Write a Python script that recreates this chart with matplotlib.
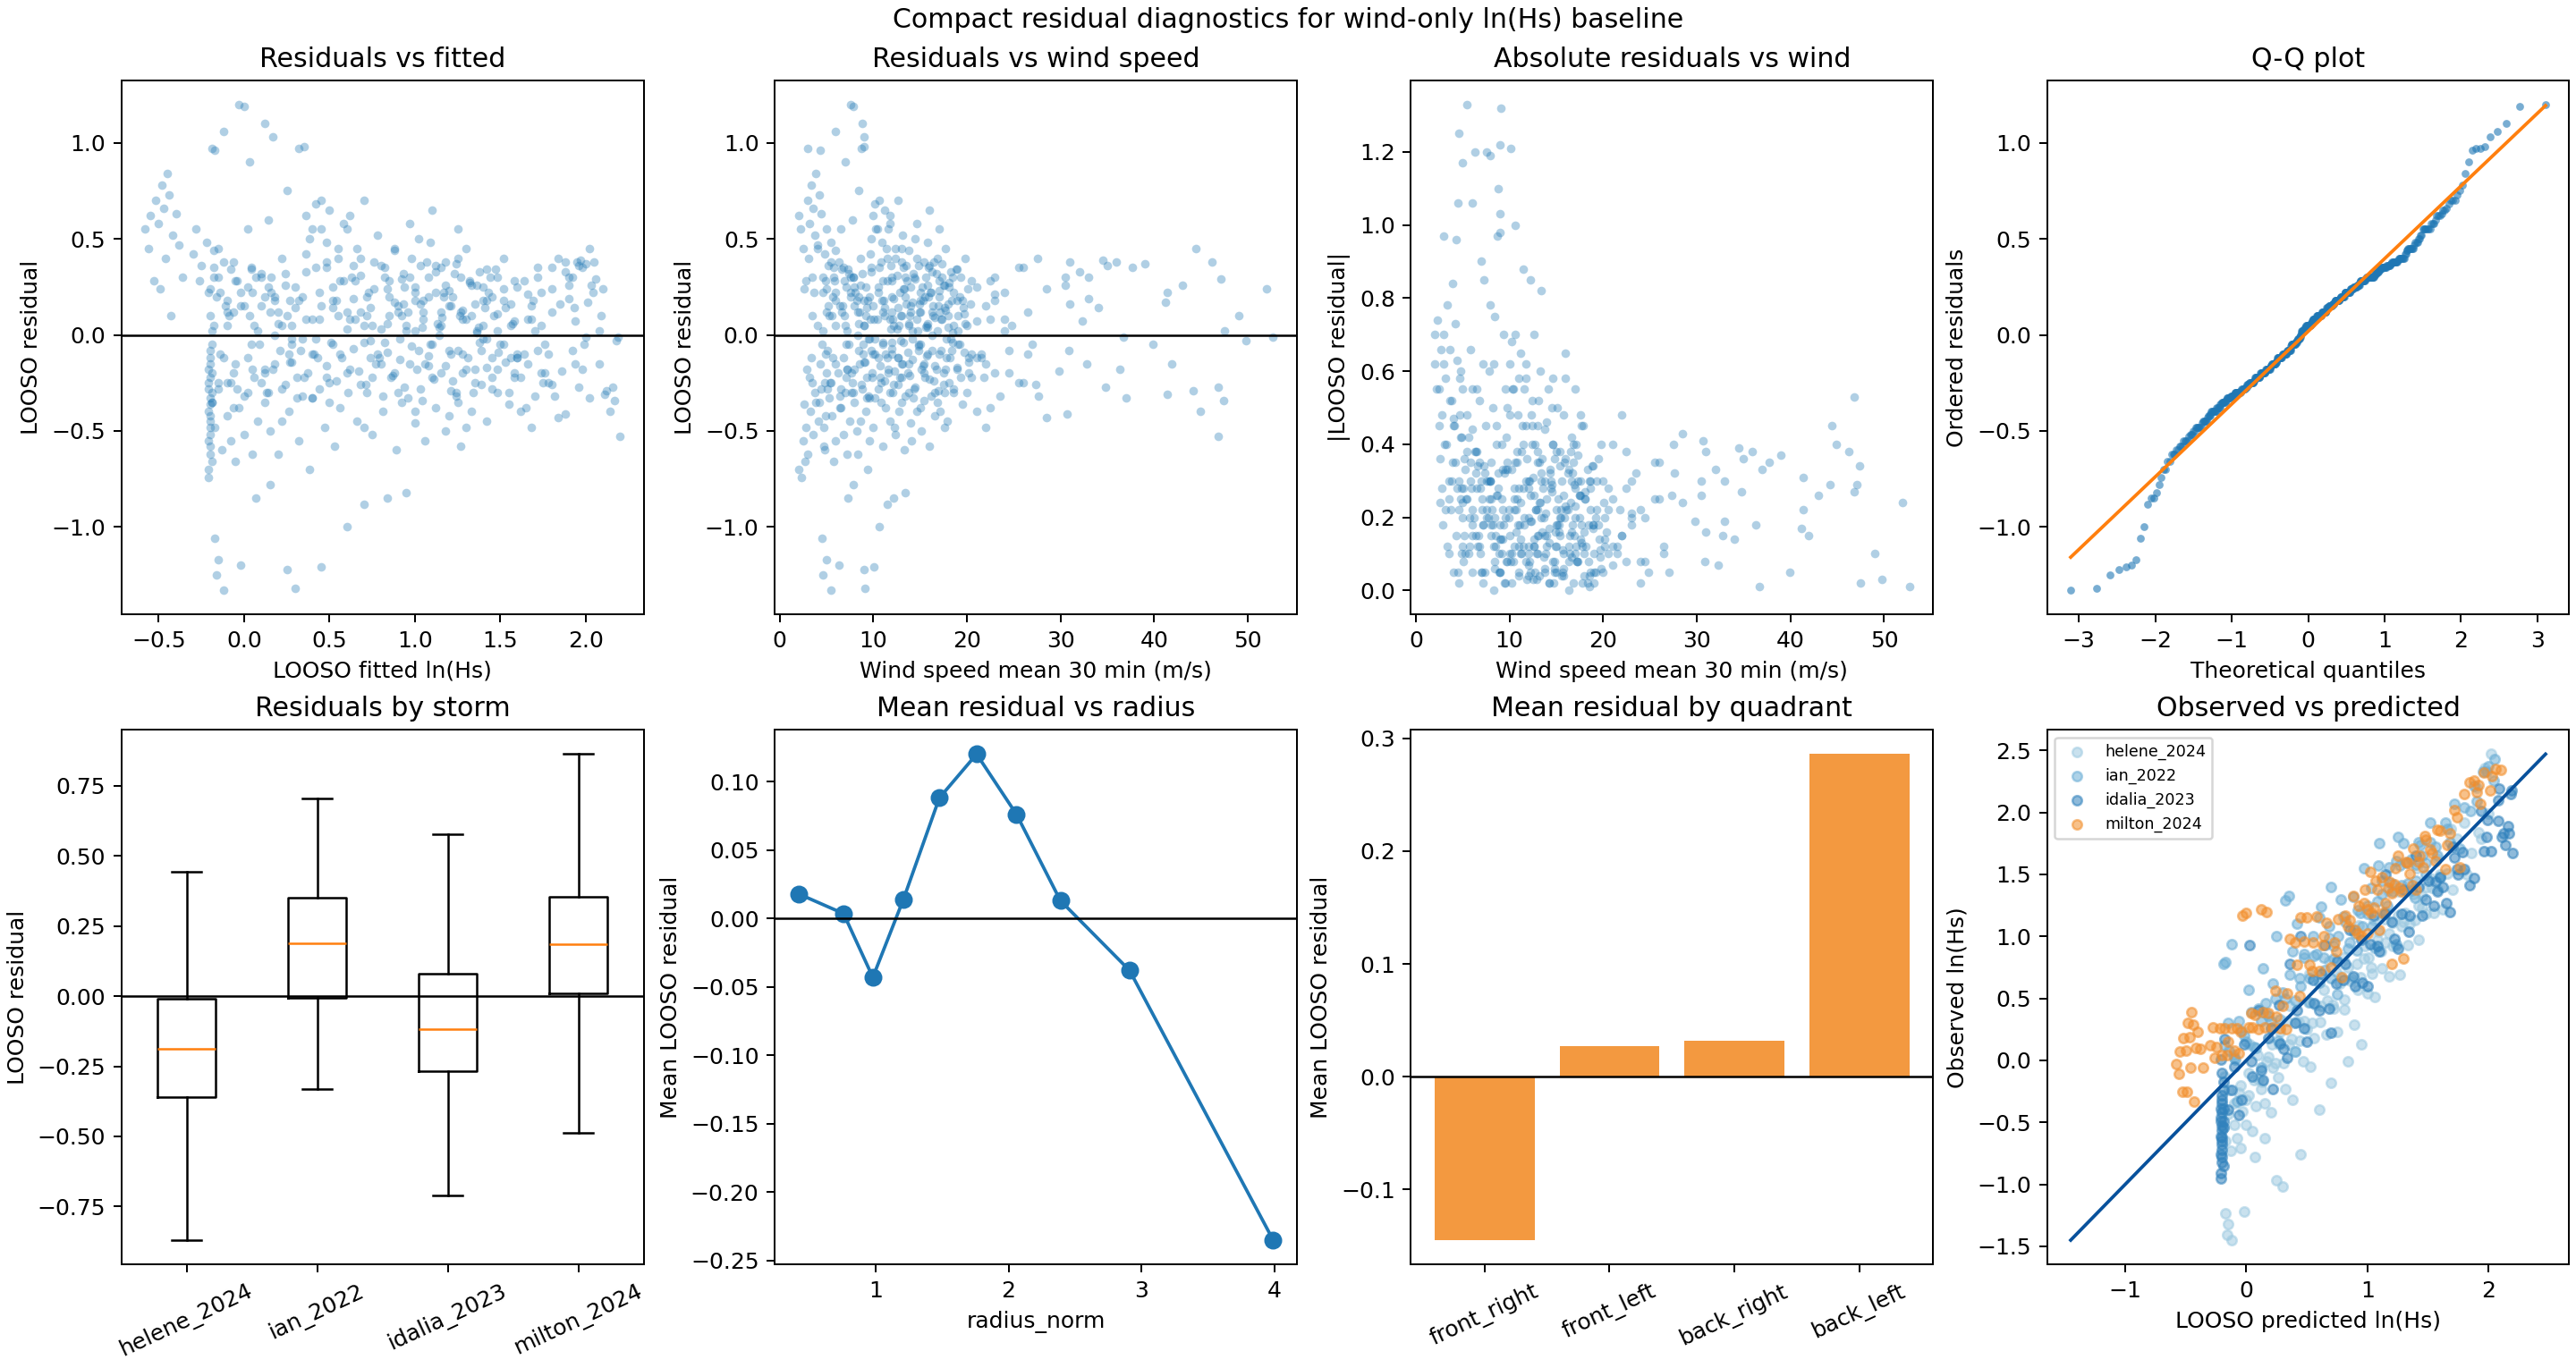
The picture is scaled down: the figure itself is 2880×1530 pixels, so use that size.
import statistics
import numpy as np
import matplotlib
matplotlib.use("Agg")
import matplotlib.pyplot as plt

storms = ["helene_2024", "ian_2022", "idalia_2023", "milton_2024"]
storm_colors = ["#9ecae1", "#6baed6", "#3182bd", "#f28e2b"]

# (LOOSO fitted ln(Hs), wind speed mean 30 min, LOOSO residual)
helene_pts = [
    (-0.19, 4.2, -0.35), (-0.18, 4.0, 0.05), (-0.17, 4.5, -1.06), (-0.17, 4.7, -0.48), (-0.16, 4.6, -1.25),
    (-0.15, 5.0, -1.17), (-0.15, 5.1, -0.28), (-0.13, 4.8, -0.60), (-0.12, 5.5, -1.33), (-0.11, 5.2, 0.15),
    (-0.10, 5.6, -0.42), (-0.08, 6.0, -0.55), (-0.06, 6.2, -0.20), (-0.05, 5.8, -0.66), (-0.03, 6.5, -0.38),
    (-0.02, 6.3, -1.20), (0.00, 6.8, -0.52), (0.02, 7.0, -0.30), (0.03, 6.9, 0.10), (0.05, 7.2, -0.62),
    (0.08, 7.5, -0.45), (0.10, 7.8, -0.25), (0.07, 7.3, -0.85), (0.15, 7.9, -0.78),
    (0.12, 8.0, -0.35), (0.15, 8.2, -0.50), (0.16, 8.1, 0.22), (0.18, 8.5, -0.15), (0.20, 8.3, -0.62),
    (0.22, 8.8, -0.28), (0.25, 9.0, -1.22), (0.26, 9.2, -0.40), (0.28, 8.9, -0.05), (0.30, 9.1, -1.32),
    (0.32, 9.6, -0.55), (0.35, 9.9, -0.22), (0.36, 9.7, 0.08), (0.38, 9.4, -0.70), (0.40, 10.2, -0.33),
    (0.43, 10.5, -0.12), (0.45, 10.1, -1.21), (0.47, 10.0, -0.48), (0.50, 10.8, -0.25), (0.52, 10.9, 0.18),
    (0.53, 11.0, -0.58), (0.56, 11.3, -0.38), (0.60, 10.6, -1.00), (0.62, 11.6, -0.18),
    (0.66, 11.8, -0.45), (0.68, 12.0, 0.12), (0.70, 11.5, -0.88), (0.72, 12.1, -0.30), (0.75, 12.4, -0.52),
    (0.78, 12.0, -0.10), (0.80, 12.5, 0.03), (0.81, 12.7, -0.40), (0.84, 12.2, -0.85), (0.86, 13.0, -0.22),
    (0.89, 13.3, -0.60), (0.92, 13.0, -0.35), (0.93, 13.5, 0.16), (0.95, 13.4, -0.82), (0.97, 13.8, -0.15),
    (1.00, 14.0, -0.46), (1.03, 14.4, -0.28), (1.05, 14.6, 0.08), (1.06, 14.1, -0.55), (1.09, 14.8, -0.05),
    (1.12, 15.0, -0.38), (1.15, 15.4, -0.20), (1.17, 15.5, 0.20), (1.18, 15.1, -0.50), (1.21, 15.8, -0.10),
    (1.24, 16.2, -0.32), (1.26, 16.4, 0.10), (1.27, 16.0, -0.58), (1.30, 16.7, -0.18), (1.33, 17.1, -0.40),
    (1.36, 16.8, 0.02), (1.39, 17.5, -0.26), (1.41, 17.6, 0.14), (1.42, 17.9, -0.45), (1.45, 18.2, -0.12),
    (1.48, 18.6, -0.30), (1.52, 19.0, -0.05), (1.55, 19.5, -0.36), (1.57, 19.8, 0.06), (1.58, 20.2, -0.20),
    (1.62, 21.0, -0.40), (1.66, 22.0, -0.15), (1.69, 23.0, 0.18), (1.70, 23.5, -0.32), (1.74, 24.8, 0.05),
    (1.78, 26.0, -0.25), (1.80, 26.5, 0.12), (1.82, 27.6, -0.32), (1.86, 29.8, -0.19), (1.90, 30.5, 0.30),
    (1.94, 32.8, -0.15), (1.97, 34.5, 0.39), (2.02, 44.4, 0.45), (2.00, 36.7, -0.01), (1.92, 30.9, -0.08),
    (0.02, 6.8, -0.12), (0.06, 7.1, -0.22), (0.09, 7.4, -0.05), (0.13, 7.7, -0.30), (0.17, 8.0, -0.18),
    (0.21, 8.4, -0.08), (0.24, 8.7, -0.26), (0.27, 9.0, -0.14), (0.31, 9.3, -0.33), (0.34, 9.6, -0.02),
    (0.37, 9.9, -0.20), (0.41, 10.2, -0.10), (0.44, 10.5, -0.28), (0.48, 10.7, -0.16), (0.51, 11.0, -0.04),
    (0.54, 11.2, -0.24), (0.57, 11.5, -0.12), (0.61, 11.8, -0.30), (0.64, 12.0, -0.07), (0.67, 12.3, -0.19),
    (0.71, 12.6, -0.26), (0.74, 12.9, -0.03), (0.77, 13.1, -0.15), (0.81, 13.4, -0.32), (0.84, 13.7, -0.09),
    (0.87, 13.9, -0.21), (0.91, 14.2, -0.13), (0.94, 14.5, -0.27), (0.98, 14.8, -0.06), (1.01, 15.1, -0.18),
    (1.04, 15.4, -0.34), (1.08, 15.7, -0.11), (1.11, 16.0, -0.23), (1.14, 16.3, 0.00), (1.18, 16.6, -0.16),
    (1.21, 16.9, -0.29), (1.25, 17.2, -0.08), (1.28, 17.5, -0.20), (1.31, 17.8, -0.12), (1.35, 18.1, -0.25),
    (1.38, 18.5, -0.04), (1.42, 18.9, -0.17), (1.45, 19.3, -0.22), (1.49, 19.7, -0.09), (1.53, 20.2, -0.14),
    (-0.05, 6.0, -0.15), (-0.10, 5.4, -0.25), (-0.14, 4.9, -0.10), (0.00, 6.4, -0.32), (1.60, 21.5, -0.10),
]
ian_pts = [
    (-0.19, 3.0, 0.97), (-0.17, 4.3, 0.96), (-0.12, 6.0, 1.06), (-0.18, 3.5, 0.30), (-0.15, 4.0, 0.45),
    (-0.10, 5.0, 0.12), (-0.08, 4.8, -0.25), (-0.06, 5.5, 0.38), (-0.02, 6.0, 0.22), (0.02, 6.5, 0.55),
    (0.06, 7.0, 0.05), (0.10, 7.4, 0.32), (0.12, 7.2, -0.18), (0.14, 7.8, 0.60), (0.18, 8.2, 0.18),
    (0.22, 8.6, 0.40), (0.25, 8.4, 0.75), (0.26, 8.9, -0.10), (0.30, 9.2, 0.25), (0.32, 8.7, 0.97),
    (0.35, 9.0, 0.98), (0.38, 9.8, 0.50), (0.40, 9.6, -0.33), (0.42, 10.2, 0.68), (0.45, 10.0, 0.15),
    (0.48, 10.6, 0.35), (0.52, 11.0, -0.05), (0.55, 11.4, 0.45), (0.58, 11.0, 0.28), (0.60, 11.6, 0.55),
    (0.62, 11.8, 0.62), (0.65, 12.1, 0.08), (0.68, 12.4, 0.40), (0.70, 12.6, 0.70), (0.72, 12.0, 0.20),
    (0.75, 12.8, -0.22), (0.78, 13.1, 0.52), (0.82, 13.4, 0.30), (0.85, 13.0, 0.10), (0.88, 13.8, 0.44),
    (0.90, 14.0, 0.12), (0.91, 14.2, -0.02), (0.94, 14.0, 0.25), (0.97, 14.6, 0.58), (1.00, 15.0, 0.18),
    (1.03, 14.8, 0.36), (1.06, 15.4, -0.15), (1.09, 15.8, 0.48), (1.10, 16.0, 0.65), (1.12, 16.1, 0.22),
    (1.15, 15.7, 0.05), (1.18, 16.5, 0.38), (1.21, 16.9, 0.15), (1.24, 16.6, -0.30), (1.25, 17.0, 0.55),
    (1.27, 17.3, 0.30), (1.30, 17.7, 0.45), (1.33, 18.0, 0.10), (1.36, 17.6, 0.26), (1.39, 18.4, -0.08),
    (1.40, 18.6, 0.05), (1.42, 18.8, 0.34), (1.45, 19.2, 0.20), (1.48, 19.0, 0.02), (1.52, 19.8, 0.40),
    (1.56, 20.4, 0.16), (1.60, 21.5, -0.12), (1.64, 22.5, 0.28), (1.68, 24.0, 0.08), (1.72, 25.5, 0.35),
    (1.76, 27.0, -0.05), (1.80, 28.5, 0.24), (1.85, 31.0, 0.16), (1.90, 33.0, 0.19), (1.95, 35.9, 0.38),
    (2.00, 39.0, 0.37), (2.05, 46.2, 0.38), (1.98, 37.7, 0.35), (1.88, 32.0, 0.33), (2.04, 41.4, 0.22),
    (-0.14, 4.6, 0.22), (-0.09, 5.3, 0.10), (-0.04, 5.9, 0.28), (0.00, 6.4, 0.15), (0.04, 6.8, 0.35),
    (0.08, 7.2, 0.02), (0.12, 7.6, 0.20), (0.16, 7.9, 0.30), (0.20, 8.3, 0.12), (0.24, 8.6, 0.26),
    (0.28, 9.0, 0.05), (0.32, 9.4, 0.18), (0.36, 9.8, 0.33), (0.40, 10.1, 0.08), (0.44, 10.5, 0.22),
    (0.48, 10.8, 0.38), (0.52, 11.2, 0.14), (0.56, 11.5, 0.28), (0.60, 11.9, 0.03), (0.64, 12.2, 0.19),
    (0.68, 12.5, 0.31), (0.72, 12.9, 0.10), (0.76, 13.2, 0.24), (0.80, 13.5, 0.36), (0.84, 13.8, 0.06),
    (0.88, 14.2, 0.17), (0.92, 14.5, 0.29), (0.96, 14.9, 0.12), (1.00, 15.2, 0.25), (1.04, 15.6, 0.04),
    (1.08, 15.9, 0.20), (1.12, 16.3, 0.33), (1.16, 16.6, 0.09), (1.20, 17.0, 0.23), (1.24, 17.3, 0.37),
    (1.28, 17.7, 0.13), (1.32, 18.1, 0.27), (1.36, 18.5, 0.01), (1.40, 18.9, 0.18), (1.44, 19.3, 0.30),
    (1.48, 19.7, 0.11), (1.52, 20.1, 0.24), (1.58, 21.0, 0.07), (1.66, 23.0, 0.21), (0.70, 12.0, -0.04),
]
idalia_pts = [
    (-0.21, 2.0, -0.70), (-0.21, 2.5, -0.55), (-0.20, 3.0, -0.62), (-0.20, 2.8, -0.48), (-0.21, 3.3, -0.40),
    (-0.20, 3.6, -0.52), (-0.19, 3.9, -0.35), (-0.20, 4.1, -0.45), (-0.21, 4.4, -0.28), (-0.20, 4.7, -0.58),
    (-0.19, 5.0, -0.20), (-0.20, 5.3, -0.33), (-0.21, 2.3, -0.74), (-0.20, 3.4, -0.12), (-0.19, 4.5, -0.05),
    (-0.20, 5.6, 0.10), (-0.21, 3.7, 0.22), (-0.19, 2.7, -0.66), (-0.20, 4.9, -0.42), (-0.18, 5.8, 0.35),
    (-0.15, 5.5, -0.25), (-0.10, 6.0, 0.05), (-0.06, 6.4, -0.38), (-0.02, 6.7, 0.15), (0.03, 7.0, 0.90),
    (0.05, 7.2, -0.18), (0.10, 7.6, 0.30), (0.14, 7.9, -0.30), (0.18, 8.3, 0.00), (0.22, 8.6, -0.45),
    (0.27, 9.0, 0.18), (0.31, 9.3, -0.22), (0.36, 9.7, 0.42), (0.40, 10.0, -0.10), (0.45, 10.4, 0.55),
    (0.50, 10.8, -0.35), (0.55, 11.2, 0.10), (0.60, 11.6, -0.20), (0.65, 12.0, 0.28), (0.70, 12.3, -0.48),
    (0.75, 12.7, 0.05), (0.80, 13.0, -0.15), (0.85, 13.4, 0.20), (0.90, 13.8, -0.30), (0.95, 14.2, 0.02),
    (1.00, 14.6, -0.40), (1.05, 15.0, 0.12), (1.10, 15.5, -0.22), (1.15, 15.9, 0.35), (1.20, 16.3, -0.08),
    (1.25, 16.8, -0.35), (1.30, 17.2, 0.08), (1.35, 17.7, -0.18), (1.40, 18.1, 0.25), (1.45, 18.6, -0.28),
    (1.50, 19.2, -0.05),
    (1.55, 20.0, -0.30), (1.60, 21.0, -0.12), (1.65, 22.5, -0.38), (1.70, 24.0, 0.02), (1.75, 25.5, -0.25),
    (1.78, 26.5, -0.10), (1.80, 27.3, -0.26), (1.84, 28.5, -0.43), (1.88, 30.7, -0.41), (1.94, 32.3, 0.07),
    (1.96, 34.8, -0.27), (1.98, 36.3, -0.18), (2.02, 37.0, -0.33), (1.99, 39.9, -0.05), (2.11, 41.4, -0.31),
    (2.08, 41.9, -0.15), (2.12, 44.2, -0.29), (2.14, 44.9, -0.40), (2.16, 46.8, -0.27), (2.20, 46.8, -0.53),
    (2.17, 47.4, -0.34), (2.08, 47.5, 0.02), (2.09, 49.0, 0.10), (2.18, 49.8, -0.03), (2.19, 52.7, -0.01),
    (1.74, 23.0, -0.20), (1.68, 22.0, -0.48), (1.58, 20.5, -0.22),
    (-0.20, 3.2, -0.22), (-0.20, 4.3, -0.15), (-0.19, 3.8, -0.30), (-0.20, 5.1, -0.08), (-0.21, 2.9, -0.18),
    (-0.12, 5.7, -0.12), (-0.04, 6.5, -0.28), (0.04, 7.1, -0.05), (0.12, 7.7, -0.20), (0.20, 8.4, 0.06),
    (0.28, 9.1, -0.14), (0.34, 9.5, -0.32), (0.42, 10.2, -0.02), (0.48, 10.7, -0.22), (0.56, 11.3, -0.10),
    (0.62, 11.8, 0.08), (0.68, 12.2, -0.26), (0.74, 12.6, -0.12), (0.82, 13.2, -0.04), (0.88, 13.7, -0.20),
    (0.96, 14.3, -0.33), (1.02, 14.8, -0.08), (1.08, 15.3, -0.16), (1.14, 15.8, 0.04), (1.22, 16.5, -0.24),
    (1.28, 17.0, -0.10), (1.34, 17.6, -0.30), (1.42, 18.3, -0.02), (1.48, 18.9, -0.18), (1.56, 20.2, -0.12),
    (1.62, 21.8, -0.22), (1.72, 24.5, -0.08), (-0.20, 2.6, -0.36), (-0.19, 4.6, 0.02), (-0.21, 3.5, -0.25),
]
milton_pts = [
    (-0.58, 2.2, 0.55), (-0.56, 2.5, 0.45), (-0.55, 2.0, 0.62), (-0.53, 2.8, 0.28), (-0.52, 3.0, 0.70),
    (-0.50, 3.2, 0.58), (-0.49, 2.6, 0.24), (-0.48, 3.4, 0.78), (-0.47, 3.6, 0.66), (-0.46, 3.1, 0.40),
    (-0.45, 3.9, 0.84), (-0.44, 4.2, 0.73), (-0.43, 3.5, 0.10), (-0.42, 3.8, 0.52), (-0.40, 4.4, 0.63),
    (-0.38, 4.0, 0.47), (-0.36, 4.6, 0.30),
    (-0.30, 4.8, 0.42), (-0.28, 5.0, 0.55), (-0.25, 5.2, 0.36), (-0.22, 5.5, 0.48), (-0.20, 5.0, 0.24),
    (-0.18, 6.0, 0.44), (-0.15, 5.8, 0.30), (-0.12, 6.3, 0.38), (-0.10, 6.0, 0.18), (-0.08, 6.6, 0.34),
    (-0.05, 6.9, 0.28), (-0.03, 7.6, 1.20), (0.00, 7.9, 1.19), (0.02, 7.1, 0.25), (0.05, 7.6, 0.22),
    (0.07, 7.9, 0.30), (0.10, 8.0, 0.15), (0.12, 8.8, 1.10), (0.15, 8.5, 0.12), (0.17, 9.0, 1.03),
    (0.18, 8.4, 0.20), (0.22, 9.0, 0.05), (0.25, 9.2, 0.10), (0.28, 9.5, -0.02), (0.30, 9.3, 0.14),
    (0.33, 9.8, -0.08),
    (0.36, 10.0, 0.62), (0.40, 10.3, 0.55), (0.42, 9.8, 0.35), (0.45, 10.6, 0.70), (0.48, 10.9, 0.48),
    (0.50, 11.2, 0.65), (0.52, 10.5, 0.25), (0.55, 11.5, 0.40), (0.58, 11.8, 0.58), (0.60, 11.0, 0.12),
    (0.63, 12.0, 0.30), (0.66, 12.4, 0.45), (0.70, 12.2, 0.05), (0.73, 12.8, 0.22), (0.76, 13.0, 0.38),
    (0.79, 12.6, -0.12),
    (0.82, 13.2, 0.35), (0.85, 13.6, 0.28), (0.88, 13.0, 0.45), (0.90, 14.0, 0.15), (0.93, 14.3, 0.32),
    (0.95, 13.8, 0.05), (0.98, 14.6, 0.40), (1.00, 15.0, 0.22), (1.02, 14.5, 0.50), (1.05, 15.3, 0.18),
    (1.08, 15.6, 0.30), (1.10, 15.0, -0.05), (1.12, 16.0, 0.36), (1.15, 16.3, 0.12), (1.18, 15.8, 0.26),
    (1.20, 16.6, -0.42), (1.22, 17.0, 0.20), (1.25, 16.8, 0.40), (1.28, 17.3, 0.08), (1.30, 17.6, -0.48),
    (1.32, 17.0, 0.28), (1.35, 18.0, 0.16), (1.38, 18.3, 0.33), (1.40, 17.8, -0.02), (1.43, 18.6, 0.22),
    (1.46, 19.0, 0.10), (1.48, 18.5, 0.30),
    (1.52, 19.5, 0.18), (1.56, 20.0, 0.05), (1.60, 21.0, 0.25), (1.64, 20.5, -0.10), (1.68, 22.0, 0.15),
    (1.72, 23.0, 0.30), (1.76, 24.5, -0.20), (1.80, 26.0, 0.35), (1.84, 27.5, 0.40), (1.88, 31.0, 0.38),
    (1.92, 33.0, 0.30), (1.96, 35.0, 0.36), (2.03, 43.0, 0.26), (2.01, 41.2, 0.17), (1.93, 34.0, 0.14),
    (1.90, 30.5, 0.26), (2.06, 47.1, 0.29), (2.10, 52.0, 0.24),
    (-0.26, 4.9, 0.28), (-0.16, 5.7, 0.20), (-0.06, 6.6, 0.12), (0.04, 7.3, 0.34), (0.14, 8.0, 0.25),
    (0.24, 8.8, 0.32), (0.34, 9.6, 0.20), (0.44, 10.4, 0.08), (0.54, 11.1, 0.18), (0.64, 11.9, 0.36),
    (0.74, 12.6, 0.14), (0.84, 13.3, 0.24), (0.92, 13.9, 0.10), (0.97, 14.4, 0.30), (1.03, 14.9, 0.16),
    (1.07, 15.4, 0.38), (1.13, 15.8, 0.06), (1.17, 16.2, 0.22), (1.23, 16.7, 0.32), (1.27, 17.1, 0.12),
    (1.33, 17.5, 0.26), (1.37, 18.0, 0.04), (1.42, 18.4, 0.18), (1.47, 18.9, 0.34), (1.53, 19.6, 0.14),
    (1.58, 20.5, 0.28), (1.66, 22.5, 0.08), (1.74, 24.0, 0.22), (1.00, 14.7, 0.02), (1.20, 16.4, 0.15),
]
storm_pts = [helene_pts, ian_pts, idalia_pts, milton_pts]

# box summaries per storm (no fliers shown)
box_whislo = [-0.87, -0.33, -0.71, -0.486]
box_q1 = [-0.361, -0.005, -0.267, 0.009]
box_med = [-0.187, 0.19, -0.117, 0.185]
box_q3 = [-0.009, 0.35, 0.08, 0.353]
box_whishi = [0.443, 0.704, 0.577, 0.863]

radius_norm = [0.42, 0.76, 0.98, 1.21, 1.48, 1.76, 2.06, 2.39, 2.91, 3.99]
radius_mean_resid = [0.018, 0.0035, -0.043, 0.014, 0.088, 0.12, 0.076, 0.013, -0.038, -0.235]

quadrants = ["front_right", "front_left", "back_right", "back_left"]
quadrant_mean_resid = [-0.145, 0.027, 0.032, 0.286]


def main():
    fitted = np.array([p[0] for pts in storm_pts for p in pts])
    wind = np.array([p[1] for pts in storm_pts for p in pts])
    resid = np.array([p[2] for pts in storm_pts for p in pts])

    fig, axes = plt.subplots(2, 4, figsize=(16, 8.5), dpi=180, layout="constrained")
    fig.suptitle("Compact residual diagnostics for wind-only ln(Hs) baseline", fontsize=12)

    ax = axes[0, 0]
    ax.scatter(fitted, resid, s=15, alpha=0.35, color="C0", linewidths=0)
    ax.axhline(0, color="black", lw=1)
    ax.set_title("Residuals vs fitted")
    ax.set_xlabel("LOOSO fitted ln(Hs)")
    ax.set_ylabel("LOOSO residual")

    ax = axes[0, 1]
    ax.scatter(wind, resid, s=15, alpha=0.35, color="C0", linewidths=0)
    ax.axhline(0, color="black", lw=1)
    ax.set_title("Residuals vs wind speed")
    ax.set_xlabel("Wind speed mean 30 min (m/s)")
    ax.set_ylabel("LOOSO residual")

    ax = axes[0, 2]
    ax.scatter(wind, np.abs(resid), s=15, alpha=0.35, color="C0", linewidths=0)
    ax.set_title("Absolute residuals vs wind")
    ax.set_xlabel("Wind speed mean 30 min (m/s)")
    ax.set_ylabel("|LOOSO residual|")

    # Q-Q against the normal distribution
    ax = axes[0, 3]
    ordered = np.sort(resid)
    n = len(ordered)
    nd = statistics.NormalDist()
    theo = np.array([nd.inv_cdf((i - 0.5) / n) for i in range(1, n + 1)])
    ax.plot(theo, ordered, "o", ms=3.5, color="C0", alpha=0.6, mec="none")
    ends = np.array([theo[0], theo[-1]])
    ax.plot(ends, ordered.mean() + ordered.std(ddof=1) * ends, color="C1", lw=1.5)
    ax.set_title("Q-Q plot")
    ax.set_xlabel("Theoretical quantiles")
    ax.set_ylabel("Ordered residuals")

    ax = axes[1, 0]
    stats = []
    for i, name in enumerate(storms):
        stats.append(dict(label=name, whislo=box_whislo[i], q1=box_q1[i], med=box_med[i],
                          q3=box_q3[i], whishi=box_whishi[i], fliers=[]))
    ax.bxp(stats, widths=0.45, showfliers=False)
    ax.axhline(0, color="black", lw=1)
    ax.tick_params(axis="x", labelrotation=25)
    ax.set_title("Residuals by storm")
    ax.set_ylabel("LOOSO residual")

    ax = axes[1, 1]
    ax.plot(radius_norm, radius_mean_resid, "-o", color="C0", ms=7, lw=1.5)
    ax.axhline(0, color="black", lw=1)
    ax.set_title("Mean residual vs radius")
    ax.set_xlabel("radius_norm")
    ax.set_ylabel("Mean LOOSO residual")

    ax = axes[1, 2]
    ax.bar(quadrants, quadrant_mean_resid, color="#f28e2b", alpha=0.9)
    ax.axhline(0, color="black", lw=1)
    ax.tick_params(axis="x", labelrotation=25)
    ax.set_title("Mean residual by quadrant")
    ax.set_ylabel("Mean LOOSO residual")

    ax = axes[1, 3]
    for name, color, pts in zip(storms, storm_colors, storm_pts):
        pred = np.array([p[0] for p in pts])
        obs = pred + np.array([p[2] for p in pts])
        ax.scatter(pred, obs, s=18, alpha=0.55, color=color, label=name)
    observed = fitted + resid
    lo = min(fitted.min(), observed.min())
    hi = max(fitted.max(), observed.max())
    ax.plot([lo, hi], [lo, hi], color="#08519c", lw=1.5)
    ax.legend(loc="upper left", fontsize=7)
    ax.set_title("Observed vs predicted")
    ax.set_xlabel("LOOSO predicted ln(Hs)")
    ax.set_ylabel("Observed ln(Hs)")

    fig.savefig("out.png")


if __name__ == "__main__":
    main()
